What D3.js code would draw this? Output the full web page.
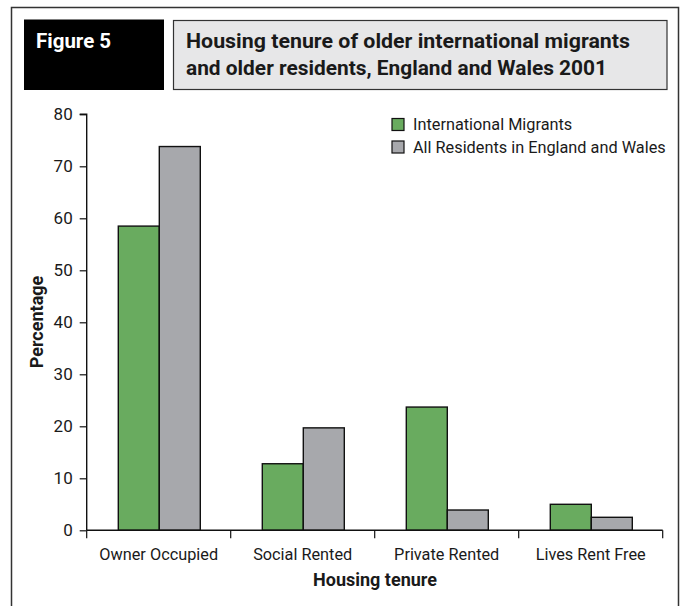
<!DOCTYPE html>
<html>
<head>
<meta charset="utf-8">
<script src="https://cdn.jsdelivr.net/npm/d3@7"></script>
<style>
  html, body { margin: 0; padding: 0; background: #fff; }
  svg { display: block; font-family: Roboto, "Open Sans", sans-serif; }
</style>
</head>
<body>
<svg id="chart" width="683" height="606"></svg>
<script>
const categories = ["Owner Occupied", "Social Rented", "Private Rented", "Lives Rent Free"];
const seriesNames = ["International Migrants", "All Residents in England and Wales"];
const migrants = [58.5, 12.8, 23.7, 5.0];
const residents = [73.8, 19.7, 3.9, 2.5];
const yTicks = [0, 10, 20, 30, 40, 50, 60, 70, 80];
const colors = ["#69ab5f", "#a7a8ac"];
const figureLabel = "Figure 5";
const titleLines = ["Housing tenure of older international migrants", "and older residents, England and Wales 2001"];
const xTitle = "Housing tenure";
const yTitle = "Percentage";

const svg = d3.select("#chart");
const textColor = "#1a1a1a";

// outer frame
svg.append("path")
  .attr("d", "M11.5,610 V7.5 H678.5 V610")
  .attr("fill", "none").attr("stroke", "#333").attr("stroke-width", 1.5);

// figure label box
svg.append("rect").attr("x", 24).attr("y", 19.5).attr("width", 140).attr("height", 70.5).attr("fill", "#000");
svg.append("text").attr("x", 36).attr("y", 48).attr("fill", "#fff")
  .attr("font-size", 20.5).attr("font-weight", 700).text(figureLabel);

// title box
svg.append("rect").attr("x", 173.5).attr("y", 20.5).attr("width", 493.5).attr("height", 69)
  .attr("fill", "#e7e7e8").attr("stroke", "#333").attr("stroke-width", 1.2);
const titleWidths = [444, 421];
svg.append("g").selectAll("text").data(titleLines).join("text")
  .attr("x", 186).attr("y", (d, i) => 48 + i * 27)
  .attr("fill", textColor).attr("font-size", 21).attr("font-weight", 700)
  .attr("textLength", (d, i) => titleWidths[i]).attr("lengthAdjust", "spacingAndGlyphs")
  .text(d => d);

// scales
const x0 = d3.scaleBand().domain(categories).range([86.7, 662.7]).paddingInner(0).paddingOuter(0);
const x1 = d3.scaleBand().domain(d3.range(seriesNames.length)).range([31.6, 31.6 + 82]);
const y = d3.scaleLinear().domain([0, 80]).range([530.3, 114.3]);

// bars
const data = categories.map((c, i) => ({ cat: c, vals: [migrants[i], residents[i]] }));
const groups = svg.append("g").selectAll("g").data(data).join("g")
  .attr("transform", d => `translate(${x0(d.cat)},0)`);
groups.selectAll("rect").data(d => d.vals.map((v, k) => ({ v, k }))).join("rect")
  .attr("x", d => x1(d.k))
  .attr("width", x1.bandwidth())
  .attr("y", d => y(d.v))
  .attr("height", d => y(0) - y(d.v))
  .attr("fill", d => colors[d.k])
  .attr("stroke", "#111").attr("stroke-width", 1.4);

// y axis
const yAxis = d3.axisLeft(y).tickValues(yTicks).tickSize(7).tickPadding(7);
const yg = svg.append("g").attr("transform", "translate(86.7,0)").call(yAxis);
yg.select(".domain").attr("stroke", "#111").attr("stroke-width", 1.4).attr("d", `M-7,${y(80)}H0V${y(0)}`);
yg.selectAll(".tick line").attr("stroke", "#111").attr("stroke-width", 1.2);
yg.selectAll(".tick text").attr("fill", textColor).attr("font-size", 17).attr("font-family", "Roboto, sans-serif");

// x axis: baseline plus boundary ticks
const xg = svg.append("g").attr("transform", `translate(0,${y(0)})`);
xg.append("line").attr("x1", x0.range()[0]).attr("x2", x0.range()[1]).attr("stroke", "#111").attr("stroke-width", 1.4);
const bounds = categories.map(c => x0(c)).concat([x0.range()[1]]);
xg.selectAll("line.t").data(bounds).join("line").attr("class", "t")
  .attr("x1", d => d).attr("x2", d => d).attr("y1", 0).attr("y2", 8)
  .attr("stroke", "#111").attr("stroke-width", 1.2);
xg.selectAll("text").data(categories).join("text")
  .attr("x", d => x0(d) + x0.bandwidth() / 2).attr("y", 29.5)
  .attr("text-anchor", "middle").attr("fill", textColor).attr("font-size", 16.3)
  .text(d => d);

// axis titles
svg.append("text").attr("x", 375).attr("y", 586).attr("text-anchor", "middle")
  .attr("fill", textColor).attr("font-size", 18).attr("font-weight", 700).text(xTitle);
svg.append("text").attr("transform", "translate(42.5,322) rotate(-90)").attr("text-anchor", "middle")
  .attr("fill", textColor).attr("font-size", 18).attr("font-weight", 700).text(yTitle);

// legend
const leg = svg.append("g").attr("transform", "translate(392,118.5)");
const li = leg.selectAll("g").data(seriesNames).join("g").attr("transform", (d, i) => `translate(0,${i * 22.5})`);
li.append("rect").attr("width", 12).attr("height", 12)
  .attr("fill", (d, i) => colors[i]).attr("stroke", "#111").attr("stroke-width", 1.2);
li.append("text").attr("x", 21).attr("y", 11.5).attr("fill", textColor).attr("font-size", 16.3).text(d => d);
</script>
</body>
</html>
